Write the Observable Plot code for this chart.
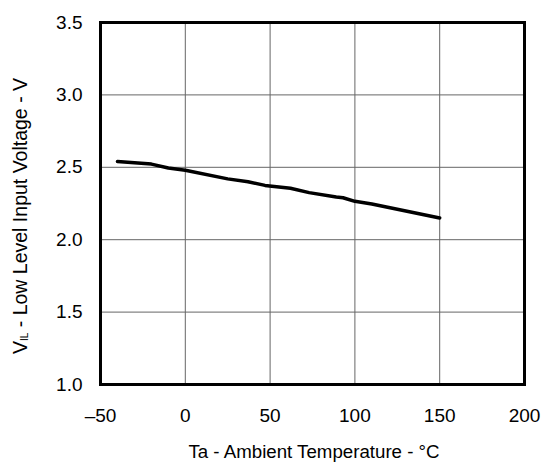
<!DOCTYPE html>
<html>
<head>
<meta charset="utf-8">
<script src="https://cdn.jsdelivr.net/npm/d3@7"></script>
<script src="https://cdn.jsdelivr.net/npm/@observablehq/plot@0.6"></script>
<style>
  html, body { margin: 0; padding: 0; background: #fff; }
  #chart svg { display: block; }
</style>
</head>
<body>
<div id="chart"></div>
<script>
const temperature = [-40, -20, -10, 0, 25, 37, 47, 62, 73, 89, 93, 100, 110, 150];
const voltage = [2.54, 2.522, 2.495, 2.48, 2.42, 2.40, 2.375, 2.355, 2.325, 2.295, 2.29, 2.265, 2.247, 2.15];
const xTicks = [-50, 0, 50, 100, 150, 200];
const yTicks = [1.0, 1.5, 2.0, 2.5, 3.0, 3.5];
const xLabel = "Ta - Ambient Temperature - °C";

const data = temperature.map((t, i) => ({t, v: voltage[i]}));

const fmtX = d => d < 0 ? "\u2013" + Math.abs(d) : String(d);

const plot = Plot.plot({
  width: 550,
  height: 466,
  marginLeft: 100,
  marginRight: 26,
  marginTop: 22,
  marginBottom: 82,
  style: {fontFamily: "Liberation Sans, Arial, sans-serif", fontSize: "19px", color: "#000", background: "#fff"},
  x: {domain: [-50, 200]},
  y: {domain: [1.0, 3.5]},
  marks: [
    Plot.gridX(xTicks, {stroke: "#666", strokeOpacity: 1, strokeWidth: 1}),
    Plot.gridY(yTicks, {stroke: "#666", strokeOpacity: 1, strokeWidth: 1}),
    Plot.axisX(xTicks, {tickSize: 0, tickPadding: 24, tickFormat: fmtX, fontSize: 19, label: null}),
    Plot.axisY(yTicks, {tickSize: 0, tickPadding: 18, tickFormat: d => d.toFixed(1), fontSize: 19, label: null}),
    Plot.line(data, {x: "t", y: "v", stroke: "#000", strokeWidth: 3.5, strokeLinejoin: "round"}),
    Plot.frame({stroke: "#000", strokeWidth: 3})
  ]
});

document.getElementById("chart").appendChild(plot);

const svg = d3.select(plot);
svg.append("text")
  .attr("x", 314).attr("y", 451)
  .attr("text-anchor", "middle")
  .attr("dominant-baseline", "central")
  .attr("font-size", 18.7)
  .attr("fill", "#000")
  .text(xLabel);

const yl = svg.append("text")
  .attr("transform", "translate(26.5,216) rotate(-90)")
  .attr("text-anchor", "middle")
  .attr("font-size", 19.5)
  .attr("fill", "#000");
yl.append("tspan").text("V");
yl.append("tspan").attr("font-size", 10).attr("dy", 1).text("IL");
yl.append("tspan").attr("dy", -1).text(" - Low Level Input Voltage - V");
</script>
</body>
</html>
